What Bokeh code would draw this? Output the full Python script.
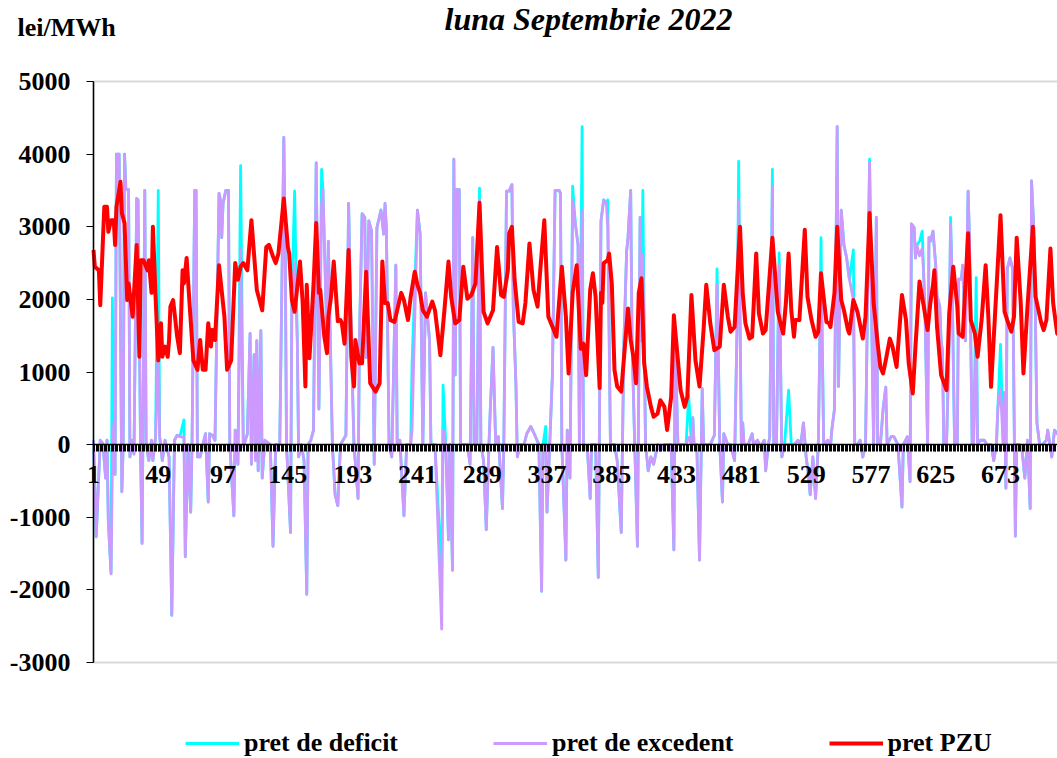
from bokeh.plotting import figure
from bokeh.models import Range1d, FixedTicker, Label, Legend, LegendItem, BoxAnnotation
from bokeh.embed import file_html
from bokeh.resources import INLINE

# ---------------- data ----------------
titlu = "luna Septembrie 2022"
unitate = "lei/MWh"
serii = ["pret de deficit", "pret de excedent", "pret PZU"]

eticheta_ore = [1, 49, 97, 145, 193, 241, 289, 337, 385, 433, 481, 529, 577, 625, 673]
valori_y = [-3000, -2000, -1000, 0, 1000, 2000, 3000, 4000, 5000]

# balancing prices: hour index and values (deficit / excedent)
bal_ore = [
    1, 3, 6, 8, 10, 11, 12, 14, 15, 16,
    17, 18, 20, 22, 23, 24, 25, 27, 28, 29,
    31, 33, 34, 36, 37, 39, 40, 42, 44, 45,
    47, 49, 50, 52, 54, 57, 59, 61, 63, 65,
    68, 69, 71, 73, 74, 76, 77, 78, 80, 82,
    84, 86, 87, 89, 91, 94, 95, 96, 97, 99,
    101, 102, 105, 106, 108, 110, 112, 115, 117, 118,
    120, 121, 122, 123, 125, 126, 128, 132, 134, 136,
    139, 142, 143, 144, 147, 148, 150, 152, 153, 155,
    157, 159, 160, 162, 164, 166, 168, 170, 171, 174,
    175, 178, 180, 182, 184, 188, 190, 192, 194, 197,
    198, 200, 202, 203, 205, 207, 209, 211, 214, 216,
    217, 218, 220, 222, 225, 226, 228, 231, 233, 236,
    237, 241, 243, 245, 247, 250, 251, 254, 259, 260,
    262, 264, 265, 267, 268, 269, 270, 272, 273, 276,
    278, 280, 282, 283, 285, 287, 288, 290, 292, 294,
    295, 297, 299, 301, 304, 305, 307, 309, 311, 312,
    314, 315, 317, 320, 322, 325, 328, 331, 333, 334,
    336, 337, 339, 341, 343, 346, 347, 348, 351, 352,
    354, 356, 358, 360, 361, 363, 364, 367, 369, 370,
    373, 375, 377, 379, 381, 382, 384, 387, 389, 392,
    394, 396, 397, 399, 400, 402, 404, 406, 407, 408,
    410, 412, 414, 416, 419, 421, 424, 426, 429, 431,
    432, 434, 436, 438, 440, 442, 444, 445, 446, 448,
    450, 452, 453, 456, 458, 461, 463, 465, 467, 468,
    471, 473, 476, 478, 479, 481, 482, 483, 486, 489,
    490, 493, 495, 498, 499, 501, 502, 504, 505, 507,
    509, 511, 513, 516, 518, 520, 523, 525, 527, 529,
    531, 532, 534, 536, 538, 539, 540, 542, 545, 547,
    548, 550, 552, 553, 555, 557, 559, 561, 564, 565,
    567, 569, 571, 573, 576, 578, 579, 581, 582, 584,
    586, 588, 589, 592, 594, 597, 600, 601, 604, 606,
    607, 609, 610, 611, 613, 615, 616, 617, 619, 620,
    621, 623, 625, 626, 628, 629, 630, 631, 633, 635,
    636, 637, 639, 641, 642, 644, 645, 647, 649, 650,
    652, 653, 655, 656, 658, 661, 663, 666, 668, 670,
    671, 673, 675, 676, 677, 678, 680, 682, 684, 685,
    687, 689, 691, 693, 695, 696, 698, 700, 702, 704,
    707, 708, 711, 713, 715, 718, 720,
]

pret_excedent = [
    60, -1260, 60, 10, -460, 60, -1070, -1780, -300, 300,
    -410, 4000, 4000, -650, 0, 4000, 3510, 3510, -170, 60,
    -130, 3390, 3370, -270, -1360, 3500, 0, -220, 60, -220,
    110, 1350, 110, -220, 60, -170, -2350, 60, 130, 110,
    100, -1545, 0, -930, 0, 3500, 3500, -170, -170, 0,
    150, -790, 150, 130, 60, 3460, 3370, 2850, 3320, 3500,
    3500, 0, -980, 200, -270, 2700, -30, 150, 1530, -270,
    1240, -220, 1430, -360, 1570, -460, 60, 0, -1400, 0,
    0, 4230, 2850, 0, -1210, 2090, 2500, 1430, -170, 0,
    -220, -2060, 0, 60, 200, 3880, 490, 3300, 3510, 1430,
    2800, 0, -690, -840, 0, 130, 3320, 1430, 0, -740,
    1430, 3180, 3130, 1200, 3080, 2940, -270, 2990, 3230, 2900,
    3320, 2990, 0, -170, 2470, 0, 60, -980, 0, 0,
    200, 3230, 2900, 0, 2090, 1430, 0, 0, -2540, 200,
    0, -1310, 0, -1730, 3930, 960, 3510, 3510, 0, 0,
    0, -270, 2850, 0, 0, 3370, 0, -220, -1170, 0,
    490, 1340, 0, 110, -880, 0, 3490, 3490, 3580, 1900,
    820, -170, 0, 0, 150, 250, 130, 0, -2020, 0,
    0, -930, 0, 960, 3500, 3500, 3460, 0, -1590, 200,
    -460, 3370, 3040, 2750, 0, 3230, 0, -80, -740, 0,
    0, -1830, 3080, 3370, 3320, 3000, 0, 0, -220, -1210,
    1430, 2660, 2850, 3500, 1430, 0, -1400, 3130, 1430, 2610,
    0, -360, -170, -270, 0, -80, 0, 0, 0, -1450,
    1430, 0, 0, 0, 0, 100, 0, 370, 0, 0,
    -1590, 770, 0, 0, 0, 130, 2200, 0, -790, 150,
    0, 0, -220, 1810, 3370, 0, 300, 0, 0, 150,
    0, 60, -30, 60, -360, 0, 110, 3560, 0, 0,
    2470, -170, 0, 0, 0, 0, 60, 0, 300, -170,
    -460, -690, -170, -740, 0, 1200, 2380, 0, 60, -30,
    200, 490, 4380, 800, 3230, 2750, 2570, 2280, 2000, 0,
    0, 60, -170, 0, 3890, 1150, 0, 3130, 0, 0,
    490, 790, 0, 110, 110, 0, -860, 0, 110, -510,
    3040, 2990, 2570, 2750, 2600, 2700, 2380, 1900, 0, 2850,
    2800, 2940, 2470, 2050, 1900, 1430, 1290, 0, 0, 1430,
    3040, 2380, 0, 0, 2280, 2280, 2470, 1430, 3490, 2850,
    0, 0, 1430, 0, 60, 60, 0, 0, -220, 0,
    490, 770, 0, 720, -600, 2420, 2570, 2420, -1260, 0,
    0, -80, -460, 60, -880, 3630, 2850, 300, 0, 0,
    60, 200, -170, 200, 150, 120, 180,
]

pret_deficit = [
    60, -1270, 60, 10, -460, 60, -1070, -1760, 2020, 300,
    -410, 4000, 4000, -650, 0, 4000, 3510, 3510, -170, 60,
    -130, 3390, 3370, -270, -1360, 3500, 0, -220, 60, -220,
    110, 3500, 110, -220, 60, -170, -2350, 60, 130, 110,
    340, -1545, 0, -930, 0, 3500, 3500, -170, -170, 0,
    150, -790, 150, 130, 60, 3460, 3370, 2850, 3320, 3500,
    3500, 0, -980, 200, -270, 3840, -30, 150, 1530, -270,
    1240, -220, 1430, -360, 1570, -460, 60, 0, -1400, 0,
    0, 4230, 2850, 0, -1210, 2090, 3490, 1430, -170, 0,
    -220, -2060, 0, 60, 200, 3880, 490, 3790, 3510, 1430,
    2800, 0, -690, -840, 0, 130, 3320, 1430, 0, -740,
    1430, 3180, 3130, 1200, 3080, 2940, -270, 2990, 3230, 2900,
    3320, 2990, 0, -170, 2470, 0, 60, -980, 0, 0,
    1100, 3230, 2900, 0, 2090, 1430, 0, 0, -1800, 820,
    0, -1310, 0, -1730, 3930, 960, 3510, 3510, 0, 0,
    0, -270, 2850, 0, 0, 3530, 0, -220, -1170, 0,
    490, 1340, 0, 110, -880, 0, 3490, 3490, 3580, 1900,
    820, -170, 0, 0, 150, 250, 130, 0, -2020, 0,
    250, -930, 0, 960, 3500, 3500, 3460, 0, -1590, 200,
    -460, 3560, 3040, 2750, 0, 4380, 0, -80, -740, 0,
    0, -1830, 3080, 3370, 3320, 3370, 0, 0, -220, -1210,
    1430, 2660, 2850, 3500, 1430, 0, -1400, 3130, 1430, 3500,
    0, -360, -170, -270, 0, -80, 0, 0, 0, -1450,
    1430, 0, 0, 0, 0, 680, 0, 370, 0, 0,
    -1590, 770, 0, 0, 0, 130, 2420, 0, -790, 150,
    0, 0, -220, 1810, 3900, 0, 300, 0, 0, 150,
    0, 60, -30, 60, -360, 0, 110, 3790, 0, 0,
    2640, -170, 0, 750, 0, 0, 60, 0, 300, -170,
    -460, -690, -170, -740, 0, 1200, 2850, 0, 60, -30,
    200, 490, 4380, 800, 3230, 2750, 2570, 2280, 2680, 0,
    0, 60, -170, 0, 3930, 1150, 0, 3130, 0, 0,
    490, 790, 0, 110, 110, 0, -860, 0, 110, -510,
    3040, 2990, 2570, 2750, 2800, 2940, 2380, 1900, 0, 2850,
    2800, 2940, 2470, 2050, 1900, 1430, 1290, 0, 0, 1430,
    3130, 2380, 0, 0, 2280, 2280, 2470, 1430, 3490, 2850,
    0, 0, 2300, 0, 60, 60, 0, 0, -220, 0,
    490, 1380, 0, 720, -600, 2420, 2570, 2420, -1260, 0,
    0, -80, -460, 60, -880, 3630, 2850, 300, 0, 0,
    60, 200, -170, 200, 150, 120, 180,
]

# day-ahead market (PZU) price
pzu_ore = [
    1, 2, 5, 6, 9, 11, 12, 14, 16, 17,
    18, 21, 22, 24, 26, 27, 30, 33, 35, 36,
    38, 41, 42, 44, 45, 47, 49, 51, 52, 54,
    56, 57, 58, 60, 63, 65, 67, 68, 70, 72,
    75, 78, 80, 82, 84, 86, 88, 89, 91, 94,
    98, 100, 103, 106, 108, 110, 112, 115, 118, 122,
    126, 129, 131, 134, 136, 138, 142, 145, 146, 148,
    150, 154, 156, 158, 159, 161, 164, 166, 168, 169,
    172, 174, 175, 177, 179, 182, 184, 185, 187, 190,
    192, 194, 195, 198, 200, 203, 206, 210, 213, 215,
    217, 219, 221, 224, 229, 231, 234, 236, 239, 241,
    243, 245, 248, 252, 254, 258, 261, 264, 266, 269,
    272, 275, 278, 281, 284, 287, 290, 293, 297, 300,
    303, 305, 308, 309, 311, 313, 316, 319, 321, 324,
    327, 330, 332, 335, 338, 342, 344, 348, 351, 353,
    356, 359, 362, 364, 366, 369, 371, 373, 376, 377,
    378, 379, 382, 383, 385, 387, 389, 392, 397, 399,
    401, 403, 405, 407, 409, 411, 414, 416, 419, 421,
    424, 426, 429, 431, 434, 436, 439, 441, 444, 447,
    450, 453, 455, 458, 461, 465, 468, 471, 473, 476,
    480, 482, 484, 487, 489, 492, 494, 497, 499, 504,
    508, 510, 512, 514, 516, 518, 520, 521, 524, 528,
    530, 533, 536, 538, 540, 544, 546, 547, 550, 552,
    555, 557, 560, 561, 564, 567, 571, 573, 576, 579,
    582, 584, 586, 588, 591, 593, 596, 600, 603, 605,
    608, 610, 613, 616, 619, 621, 623, 624, 626, 629,
    633, 635, 638, 641, 642, 645, 649, 651, 654, 656,
    659, 662, 664, 666, 669, 673, 676, 678, 681, 683,
    685, 688, 690, 693, 697, 699, 703, 705, 707, 710,
    712, 715, 718, 720,
]

pret_pzu = [
    2680, 2450, 2400, 1920, 3275, 3275, 2930, 3090, 3090, 2750,
    3275, 3620, 3190, 3050, 1990, 2220, 1760, 2750, 1210, 2540,
    2540, 2400, 2540, 2090, 3000, 2035, 1160, 1670, 1210, 1350,
    1210, 1440, 1900, 1990, 1485, 1260, 2400, 2220, 2570, 1990,
    1160, 1030, 1440, 1030, 1030, 1670, 1350, 1580, 1440, 2470,
    1760, 1030, 1160, 2500, 2270, 2450, 2500, 2400, 3090, 2130,
    1850, 2720, 2750, 2590, 2500, 2630, 3390, 2720, 2630, 1990,
    1830, 2520, 1950, 800, 2200, 1190, 2200, 3050, 2090, 2130,
    1490, 1260, 1760, 2035, 2520, 1700, 1715, 1670, 1390, 2680,
    1210, 800, 1440, 1120, 1120, 2380, 845, 730, 845, 2520,
    1950, 1950, 1715, 1690, 2090, 1990, 1715, 2035, 2380, 2200,
    2090, 1850, 1760, 1970, 1850, 1230, 1850, 2520, 2035, 1670,
    1715, 2450, 2010, 2060, 2220, 3330, 1830, 1670, 1850, 2720,
    2060, 2035, 2400, 2910, 3000, 2270, 1690, 1670, 1950, 2770,
    2130, 1900, 2400, 3090, 1760, 1580, 1485, 2450, 1760, 980,
    2090, 2470, 1320, 1390, 957, 2130, 2360, 2035, 780, 2090,
    1950, 2500, 2540, 2630, 2220, 1030, 800, 730, 1875, 1440,
    1210, 845, 2090, 2290, 1120, 800, 520, 383, 430, 612,
    520, 200, 660, 1780, 1160, 750, 520, 660, 2060, 1160,
    800, 1580, 2200, 1670, 1300, 1350, 2200, 1760, 1555, 1620,
    3000, 2090, 1670, 1460, 1485, 2630, 1806, 1530, 1577, 2850,
    1830, 1670, 1530, 1950, 2630, 1850, 1485, 1715, 1715, 2960,
    2035, 1715, 1485, 1555, 2360, 1690, 1670, 1620, 2090, 3000,
    1990, 1850, 1577, 1530, 1990, 1830, 1460, 1760, 3190, 1950,
    1390, 1070, 980, 1160, 1460, 1350, 1070, 2060, 1715, 1120,
    705, 1350, 2245, 1920, 1577, 1950, 2200, 2400, 1620, 957,
    750, 1806, 2450, 1900, 1530, 1485, 2910, 1715, 1530, 1210,
    1715, 2470, 1760, 796, 1806, 3160, 1830, 1715, 1555, 1760,
    2850, 1950, 980, 1900, 3000, 2035, 1690, 1577, 1715, 2700,
    1950, 1530, 1480, 1600,
]

assert len(bal_ore) == len(pret_excedent) == len(pret_deficit)
assert len(pzu_ore) == len(pret_pzu)

# ---------------- figure ----------------
FONT = "Liberation Serif"
W, H = 1057, 758
PX_PER_HOUR = 907 / 672          # horizontal scale of the reference
PX_PER_UNIT = 581 / 8000         # vertical scale of the reference
AX_LEFT, AX_TOP = 93, 81         # pixel position of (hour 1, 5000)

x0 = eticheta_ore[0] - AX_LEFT / PX_PER_HOUR
y1 = valori_y[-1] + AX_TOP / PX_PER_UNIT

p = figure(width=W, height=H, output_backend="svg", toolbar_location=None,
           x_range=Range1d(x0, x0 + W / PX_PER_HOUR),
           y_range=Range1d(y1 - H / PX_PER_UNIT, y1),
           min_border=0, min_border_left=0, min_border_right=0,
           min_border_top=0, min_border_bottom=0)
p.outline_line_color = None
p.background_fill_color = "white"
p.border_fill_color = "white"
p.xgrid.visible = False
p.ygrid.visible = False

# grey frame of the plot area (left side hidden under the axis)
p.add_layout(BoxAnnotation(left=eticheta_ore[0], right=bal_ore[-1] + 50,
                           top=valori_y[-1], bottom=valori_y[0],
                           fill_alpha=0, line_color="#808080", line_width=2,
                           level="underlay"))

r_def = p.line(bal_ore, pret_deficit, line_color="#00FFFF", line_width=2.8,
               line_join="round")
r_exc = p.line(bal_ore, pret_excedent, line_color="#CC99FF", line_width=2.8,
               line_join="round")
r_pzu = p.line(pzu_ore, pret_pzu, line_color="#FF0000", line_width=4,
               line_join="round")

# x axis crossing at zero
ax = p.xaxis[0]
ax.fixed_location = 0
ax.bounds = (eticheta_ore[0], bal_ore[-1])
ax.ticker = FixedTicker(ticks=eticheta_ore, minor_ticks=list(range(1, 721)))
ax.axis_line_color = "black"
ax.axis_line_width = 1.5
ax.major_tick_line_color = "black"
ax.minor_tick_line_color = "black"
ax.major_tick_out = 7
ax.major_tick_in = 0
ax.minor_tick_out = 7
ax.minor_tick_in = 0
ax.major_label_standoff = 14
ax.major_label_text_font = FONT
ax.major_label_text_font_size = "26px"
ax.major_label_text_font_style = "bold"
ax.major_label_text_color = "black"

# y axis at hour 1
ay = p.yaxis[0]
ay.fixed_location = eticheta_ore[0]
ay.bounds = (valori_y[0], valori_y[-1])
ay.ticker = FixedTicker(ticks=valori_y)
ay.major_label_overrides = {v: str(v) for v in valori_y}
ay.axis_line_color = "black"
ay.axis_line_width = 1.5
ay.major_tick_line_color = "black"
ay.minor_tick_line_color = None
ay.major_tick_out = 7
ay.major_tick_in = 0
ay.major_label_standoff = 16
ay.major_label_text_font = FONT
ay.major_label_text_font_size = "26px"
ay.major_label_text_font_style = "bold"
ay.major_label_text_color = "black"

# title and unit (screen units: from the left / bottom of the canvas)
p.add_layout(Label(x=588, y=H - 18, x_units="screen", y_units="screen",
                   text=titlu, text_font=FONT, text_font_size="32px",
                   text_font_style="bold italic", text_color="black",
                   text_align="center", text_baseline="middle"))
p.add_layout(Label(x=17, y=H - 27, x_units="screen", y_units="screen",
                   text=unitate, text_font=FONT, text_font_size="26px",
                   text_font_style="bold", text_color="black",
                   text_align="left", text_baseline="middle"))

legend = Legend(items=[LegendItem(label=serii[0], renderers=[r_def]),
                       LegendItem(label=serii[1], renderers=[r_exc]),
                       LegendItem(label=serii[2], renderers=[r_pzu])],
                orientation="horizontal", location=(185, 0),
                glyph_width=54, glyph_height=20, label_standoff=5,
                spacing=95, padding=0, margin=0,
                border_line_color=None, background_fill_alpha=0,
                label_text_font=FONT, label_text_font_size="26px",
                label_text_font_style="bold", label_text_color="black")
p.add_layout(legend)

open("out.html", "w").write(file_html(p, INLINE))
